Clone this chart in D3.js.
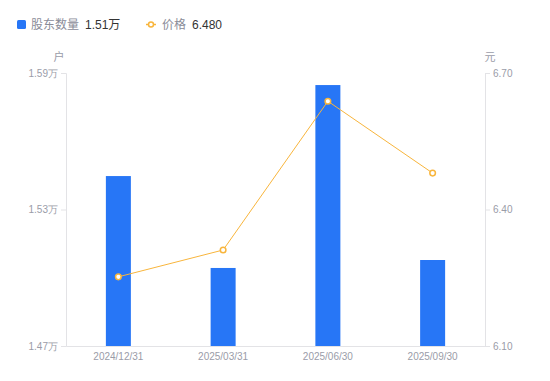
<!DOCTYPE html>
<html>
<head>
<meta charset="UTF-8">
<script src="https://d3js.org/d3.v7.min.js"></script>
<style>
  body { margin: 0; background: #fff; }
  text { font-family: "Liberation Sans", "Noto Sans CJK SC", sans-serif; }
</style>
</head>
<body>
<svg width="550" height="381"></svg>
<script>
// data
const dates = ['2024/12/31', '2025/03/31', '2025/06/30', '2025/09/30'];
const holders = [1.5447, 1.5043, 1.5847, 1.5078];   // 万户
const prices = [6.252, 6.311, 6.638, 6.480];        // 元
const holderTicks = [1.47, 1.53, 1.59];
const priceTicks = [6.10, 6.40, 6.70];

const svg = d3.select('svg');
const margin = { top: 73, right: 65, bottom: 35, left: 66 };
const width = 550 - margin.left - margin.right;
const height = 381 - margin.top - margin.bottom;

const g = svg.append('g').attr('transform', `translate(${margin.left},${margin.top})`);

const x = d3.scaleBand().domain(dates).range([0, width]);
const yL = d3.scaleLinear().domain([1.47, 1.59]).range([height, 0]);
const yR = d3.scaleLinear().domain([6.10, 6.70]).range([height, 0]);

const axisColor = '#e3e3e6';
const labelColor = '#9a9ca8';

// left axis
const left = g.append('g').call(d3.axisLeft(yL).tickValues(holderTicks).tickSize(5).tickPadding(3).tickFormat(d => d3.format('.2f')(d) + '万'));
// right axis
const right = g.append('g').attr('transform', `translate(${width},0)`)
  .call(d3.axisRight(yR).tickValues(priceTicks).tickSize(5).tickPadding(3).tickFormat(d3.format('.2f')));
// bottom axis
const bottom = g.append('g').attr('transform', `translate(0,${height})`)
  .call(d3.axisBottom(x).tickSize(0).tickPadding(7));

[left, right, bottom].forEach(a => {
  a.select('.domain').attr('stroke', axisColor);
  a.selectAll('.tick line').attr('stroke', axisColor);
  a.selectAll('.tick text').attr('fill', labelColor).attr('font-size', 10)
    .style('font-family', '"Liberation Sans", Arial, sans-serif');
});

// bars
g.selectAll('rect.bar')
  .data(holders)
  .enter()
  .append('rect')
  .attr('class', 'bar')
  .attr('x', (d, i) => x(dates[i]) + x.bandwidth() / 2 - 12.5)
  .attr('width', 25)
  .attr('y', d => yL(d))
  .attr('height', d => height - yL(d))
  .attr('fill', '#2776f6');

// price line
const line = d3.line()
  .x((d, i) => x(dates[i]) + x.bandwidth() / 2)
  .y(d => yR(d));

g.append('path')
  .datum(prices)
  .attr('d', line)
  .attr('fill', 'none')
  .attr('stroke', '#f8b53c')
  .attr('stroke-width', 1);

g.selectAll('circle.pt')
  .data(prices)
  .enter()
  .append('circle')
  .attr('class', 'pt')
  .attr('cx', (d, i) => x(dates[i]) + x.bandwidth() / 2)
  .attr('cy', d => yR(d))
  .attr('r', 2.8)
  .attr('fill', '#fff')
  .attr('stroke', '#f8b53c')
  .attr('stroke-width', 1.5);

// unit labels
svg.append('text').attr('x', 59).attr('y', 61).attr('text-anchor', 'middle')
  .attr('font-size', 11).attr('fill', labelColor).text('户');
svg.append('text').attr('x', 490).attr('y', 61).attr('text-anchor', 'middle')
  .attr('font-size', 11).attr('fill', labelColor).text('元');

// legend
svg.append('rect').attr('x', 17).attr('y', 20).attr('width', 9).attr('height', 9)
  .attr('rx', 1.5).attr('fill', '#2776f6');
svg.append('text').attr('x', 31).attr('y', 29).attr('font-size', 12).attr('fill', '#8a8c98').text('股东数量');
svg.append('text').attr('x', 85).attr('y', 29).attr('font-size', 12).attr('fill', '#333')
  .text(d3.format('.2f')(holders[holders.length - 1]) + '万');

svg.append('line').attr('x1', 146).attr('x2', 156).attr('y1', 24.5).attr('y2', 24.5)
  .attr('stroke', '#f8b53c').attr('stroke-width', 1.5);
svg.append('circle').attr('cx', 151).attr('cy', 24.5).attr('r', 2.5)
  .attr('fill', '#fff').attr('stroke', '#f8b53c').attr('stroke-width', 1.5);
svg.append('text').attr('x', 162).attr('y', 29).attr('font-size', 12).attr('fill', '#8a8c98').text('价格');
svg.append('text').attr('x', 192).attr('y', 29).attr('font-size', 12).attr('fill', '#333')
  .text(d3.format('.3f')(prices[prices.length - 1]));
</script>
</body>
</html>
